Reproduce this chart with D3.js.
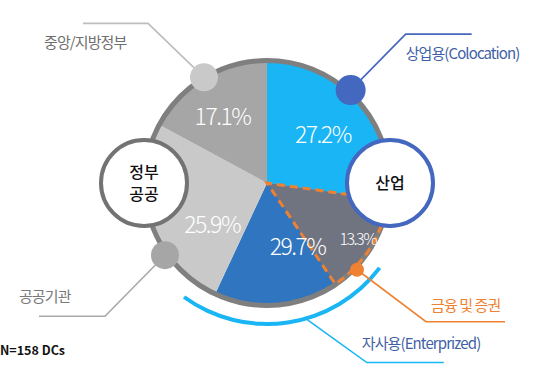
<!DOCTYPE html>
<html>
<head>
<meta charset="utf-8">
<script src="https://cdn.jsdelivr.net/npm/d3@7"></script>
<style>
  body { margin: 0; background: #fff; }
  svg { display: block; }
  text { font-family: "Noto Sans CJK KR", "Noto Sans", sans-serif; }
</style>
</head>
<body>
<div id="chart"></div>
<script>
// data
var categories = ["상업용(Colocation)", "자사용(Enterprized)", "공공기관", "중앙/지방정부"];
var shares = [27.2, 29.7, 25.9, 17.1];
var subCategory = "금융 및 증권";   // part of 자사용
var subShare = 13.3;
var groupLabels = [["산업"], ["정부", "공공"]];
var note = "N=158 DCs";

var width = 559;
var height = 365;
var cx = 267, cy = 183;
var radius = 121;

var sliceColors = ["#19b5f4", "#2f75bf", "#c9c9c9", "#a6a6a6"];
var subColor = "#707380";
var orange = "#ee8132";
var navy = "#4467bf";

var svg = d3.select("#chart").append("svg")
  .attr("width", width)
  .attr("height", height);

var g = svg.append("g").attr("transform", `translate(${cx}, ${cy})`);

var total = d3.sum(shares);
var pie = d3.pie().sort(null).value(d => d.value);
var slices = pie(categories.map((c, i) => ({ name: c, value: shares[i] })));

var arc = d3.arc().innerRadius(0).outerRadius(radius);

function polar(a, r) {
  return [r * Math.sin(a), -r * Math.cos(a)];
}
var deg = Math.PI / 180;

/* slices */
g.selectAll(".slice")
  .data(slices)
  .enter()
  .append("path")
  .attr("class", "slice")
  .attr("d", arc)
  .attr("fill", (d, i) => sliceColors[i]);

// finance wedge, inside the enterprise slice
var ent = slices[1];
var sub = { startAngle: ent.startAngle, endAngle: ent.startAngle + subShare / total * 2 * Math.PI };
g.append("path").attr("d", arc(sub)).attr("fill", subColor);

/* outer ring */
g.append("circle").attr("r", radius + 1.5)
  .attr("fill", "none").attr("stroke", "#7f7f7f").attr("stroke-width", 5);

// dashed outline of the finance wedge
g.append("path")
  .attr("d", d3.arc().innerRadius(0).outerRadius(radius + 1)(sub))
  .attr("fill", "none")
  .attr("stroke", orange)
  .attr("stroke-width", 3)
  .attr("stroke-dasharray", "8,5");

/* cyan bracket under the enterprise slice */
var bracket = { startAngle: ent.startAngle + 29 * deg, endAngle: ent.endAngle + 11 * deg };
g.append("path")
  .attr("d", d3.arc().innerRadius(139).outerRadius(143)(bracket))
  .attr("fill", "#19b5f4");

/* percent labels */
var labelPos = [[74, 0], [71, 3], [69, -19], [80, -3]];
g.selectAll(".pct")
  .data(slices)
  .enter()
  .append("text")
  .attr("class", "pct")
  .attr("transform", (d, i) => {
    var a = (d.startAngle + d.endAngle) / 2 + labelPos[i][1] * deg;
    return `translate(${polar(a, labelPos[i][0])})`;
  })
  .attr("text-anchor", "middle")
  .attr("dy", "0.36em")
  .attr("fill", "#fff")
  .attr("font-size", 23)
  .attr("font-weight", 300)
  .attr("letter-spacing", -1.5)
  .text(d => d.value.toFixed(1) + "%");

g.append("text")
  .attr("transform", `translate(${polar((sub.startAngle + sub.endAngle) / 2, 107)})`)
  .attr("text-anchor", "middle")
  .attr("dy", "0.36em")
  .attr("fill", "#fff")
  .attr("font-size", 16)
  .attr("font-weight", 300)
  .attr("letter-spacing", -1.5)
  .text(subShare.toFixed(1) + "%");

/* group circles */
var groupSpec = [{ a: 90 * deg, stroke: navy }, { a: 270 * deg, stroke: "#737373" }];
groupSpec.forEach((s, i) => {
  var p = polar(s.a, radius + 2);
  var gg = g.append("g").attr("transform", `translate(${p})`);
  gg.append("circle").attr("r", 43)
    .attr("fill", "#fff").attr("stroke", s.stroke).attr("stroke-width", 4);
  var lines = groupLabels[i];
  lines.forEach((t, j) => {
    gg.append("text")
      .attr("text-anchor", "middle")
      .attr("y", (j - (lines.length - 1) / 2) * 22)
      .attr("dy", "0.36em")
      .attr("font-size", 16)
      .attr("font-weight", 500)
      .attr("fill", "#111")
      .text(t);
  });
});

/* callouts: dot on the ring, elbow line, label */
var callouts = [
  { name: categories[3], angle: (slices[3].startAngle + slices[3].endAngle) / 2, r: 123, dot: 14, fill: "#c9c9c9",
    line: "#bdbdbd", elbow: [-56, -54], len: -65, tx: -104, ty: 19, color: "#6f6f6f" },
  { name: categories[0], angle: (slices[0].startAngle + slices[0].endAngle) / 2 - 7 * deg, r: 125, dot: 15, fill: navy,
    line: navy, elbow: [55, -56], len: 66, tx: 0, ty: 19, color: "#3f5fa6" },
  { name: categories[2], angle: (slices[2].startAngle + slices[2].endAngle) / 2 - 17 * deg, r: 125, dot: 14, fill: "#a6a6a6",
    line: "#a9a9a9", elbow: [-60, 61], len: -66, tx: -86, ty: -20, color: "#7a7a7a" },
  { name: subCategory, angle: sub.endAngle - 12 * deg, r: 125, dot: 7, fill: orange,
    line: orange, elbow: [69, 52], len: 79, tx: 5, ty: -16, color: orange },
  { name: categories[1], angle: ent.startAngle + 66 * deg, r: 141, dot: 0, fill: "none",
    line: "#19b5f4", elbow: [61, 44], len: 77, tx: -5, ty: -19, color: "#3f5fa6" }
];

callouts.forEach(c => {
  var p = polar(c.angle, c.r);
  var e = [p[0] + c.elbow[0], p[1] + c.elbow[1]];
  g.append("polyline")
    .attr("points", [p, e, [e[0] + c.len, e[1]]].map(q => q.join(",")).join(" "))
    .attr("fill", "none")
    .attr("stroke", c.line)
    .attr("stroke-width", 1.6);
  if (c.dot) {
    g.append("circle").attr("cx", p[0]).attr("cy", p[1]).attr("r", c.dot).attr("fill", c.fill);
  }
  g.append("text")
    .attr("x", e[0] + c.tx)
    .attr("y", e[1] + c.ty)
    .attr("dy", "0.36em")
    .attr("font-size", 15)
    .attr("letter-spacing", -0.9)
    .attr("fill", c.color)
    .text(c.name);
});

/* sample size note */
svg.append("text")
  .attr("x", 0)
  .attr("y", 350)
  .attr("dy", "0.36em")
  .attr("font-family", "Roboto, sans-serif")
  .attr("font-size", 12.5)
  .attr("font-weight", 700)
  .attr("fill", "#111")
  .text(note);
</script>
</body>
</html>
